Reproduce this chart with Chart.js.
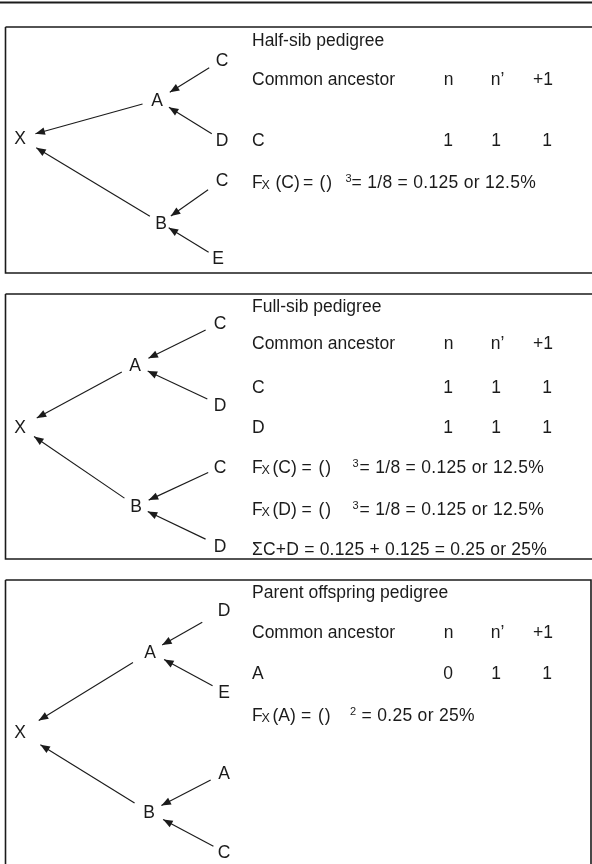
<!DOCTYPE html>
<html>
<head>
<meta charset="utf-8">
<script src="https://cdn.jsdelivr.net/npm/chart.js@4/dist/chart.umd.min.js"></script>
<style>
html,body{margin:0;padding:0;background:#fff;}
#wrap{width:592px;height:864px;}
</style>
</head>
<body>
<div id="wrap"><canvas id="c" width="592" height="864"></canvas></div>
<script>
// ---- content ----
const panelTitles = ['Half-sib pedigree', 'Full-sib pedigree', 'Parent offspring pedigree'];
const tableHeaders = ['Common ancestor', 'n', 'n\u2019', '+1'];
const ancestorNames = [['C'], ['C', 'D'], ['A']];
const nValues = [[1], [1, 1], [0]];
const nPrimeValues = [[1], [1, 1], [1]];
const plusOneValues = [[1], [1, 1], [1]];
const formulaTargets = [['(C)'], ['(C)', '(D)'], ['(A)']];
const formulaExponents = [['3'], ['3', '3'], ['2']];
const formulaResults = [['= 1/8 = 0.125 or 12.5%'], ['= 1/8 = 0.125 or 12.5%', '= 1/8 = 0.125 or 12.5%'], ['= 0.25 or 25%']];
const sumLines = [null, '\u03A3C+D = 0.125 + 0.125 = 0.25 or 25%', null];
const nodeLabels = [
  ['X', 'A', 'B', 'C', 'D', 'C', 'E'],
  ['X', 'A', 'B', 'C', 'D', 'C', 'D'],
  ['X', 'A', 'B', 'D', 'E', 'A', 'C']
];
const edges = [[1, 0], [2, 0], [3, 1], [4, 1], [5, 2], [6, 2]]; // parent -> offspring

// ---- layout (data units of the x/y scales) ----
const layout = {
  rule: 2.5,
  left: 5.5,
  panels: [
    { top: 27, bottom: 273, right: 600 },
    { top: 294, bottom: 559, right: 600 },
    { top: 580, bottom: 900, right: 591 }
  ],
  nodes: [
    [[20, 138], [157, 100], [161, 223], [222, 60], [222, 140], [222, 180], [218, 258]],
    [[20, 427], [135, 365], [136, 506], [220, 323], [220, 405], [220, 467], [220, 546]],
    [[20, 732], [150, 652], [149, 812], [224, 610], [224, 692], [224, 773], [224, 852]]
  ],
  gaps: [
    [[15, 16], [13, 19], [15, 15], [12, 14], [17, 12], [11, 9]],
    [[15, 19], [14, 17], [16, 15], [14, 14], [13, 14], [16, 13]],
    [[20, 22], [17, 24], [25, 14], [13, 16], [15, 14], [12, 16]]
  ],
  textX: 252,
  headerCols: [448.5, 497.5, 543],
  valueCols: [448, 496, 547],
  rows: [
    { title: 40, header: 79, anc: [140], form: [182], sum: null },
    { title: 305.5, header: 343, anc: [387, 427], form: [467, 509], sum: 549 },
    { title: 592, header: 632, anc: [673], form: [715], sum: null }
  ],
  formX: [
    { F: 252, sub: 261.5, paren: 275.5, eq: 303, br: 319.5, sup: 345.5, res: 351.5 },
    { F: 252, sub: 261.5, paren: 272.5, eq: 301.5, br: 318.5, sup: 352.5, res: 359.5 },
    { F: 252, sub: 261.5, paren: 272.5, eq: 301, br: 318, sup: 350, res: 361.5 }
  ]
};

const INK = '#1b1b1b';
const FONT = '"Liberation Sans", Arial, Helvetica, sans-serif';
const FS = 17.5;

// ---- datasets ----
const datasets = [];
const base = { borderColor: INK, pointRadius: 0, showLine: true, fill: false, tension: 0 };
datasets.push(Object.assign({}, base, { borderWidth: 2, data: [{ x: 0, y: layout.rule }, { x: 600, y: layout.rule }] }));
layout.panels.forEach(p => {
  const L = layout.left;
  datasets.push(Object.assign({}, base, {
    borderWidth: 1.6,
    data: [{ x: L, y: p.top }, { x: p.right, y: p.top }, { x: p.right, y: p.bottom }, { x: L, y: p.bottom }, { x: L, y: p.top }]
  }));
});
nodeLabels.forEach((labels, pi) => {
  edges.forEach(([from, to], ei) => {
    const a = layout.nodes[pi][from], b = layout.nodes[pi][to];
    const [g0, g1] = layout.gaps[pi][ei];
    const dx = b[0] - a[0], dy = b[1] - a[1], len = Math.hypot(dx, dy);
    const ux = dx / len, uy = dy / len;
    datasets.push(Object.assign({}, base, {
      arrow: true,
      borderWidth: 1.15,
      data: [{ x: a[0] + ux * g0, y: a[1] + uy * g0 }, { x: b[0] - ux * g1, y: b[1] - uy * g1 }]
    }));
  });
});

// ---- drawing plugin for arrowheads and text ----
const pedigreePlugin = {
  id: 'pedigree',
  afterDatasetsDraw(chart) {
    const { ctx } = chart;
    const xs = chart.scales.x, ys = chart.scales.y;
    const px = v => xs.getPixelForValue(v), py = v => ys.getPixelForValue(v);
    ctx.save();
    ctx.fillStyle = INK;
    chart.data.datasets.forEach((ds, i) => {
      if (!ds.arrow) return;
      const meta = chart.getDatasetMeta(i);
      const p0 = meta.data[0], p1 = meta.data[1];
      const ang = Math.atan2(p1.y - p0.y, p1.x - p0.x);
      ctx.save();
      ctx.translate(p1.x, p1.y);
      ctx.rotate(ang);
      ctx.beginPath();
      ctx.moveTo(0, 0);
      ctx.lineTo(-9.5, -3.8);
      ctx.lineTo(-9.5, 3.8);
      ctx.closePath();
      ctx.fill();
      ctx.restore();
    });
    const text = (s, x, yc, size, align, dy, spacing) => {
      ctx.font = size + 'px ' + FONT;
      ctx.textAlign = align || 'left';
      ctx.textBaseline = 'alphabetic';
      ctx.letterSpacing = (spacing || 0) + 'px';
      ctx.fillText(s, px(x), py(yc) + FS * 0.716 / 2 + (dy || 0));
      ctx.letterSpacing = '0px';
    };
    nodeLabels.forEach((labels, pi) => {
      labels.forEach((lab, ni) => {
        const [nx, ny] = layout.nodes[pi][ni];
        text(lab, nx, ny, FS, 'center');
      });
      const r = layout.rows[pi];
      const tx = layout.textX;
      text(panelTitles[pi], tx, r.title, FS);
      text(tableHeaders[0], tx, r.header, FS);
      for (let k = 1; k < 4; k++) text(tableHeaders[k], layout.headerCols[k - 1], r.header, FS, 'center');
      ancestorNames[pi].forEach((nm, ai) => {
        const y = r.anc[ai];
        text(nm, tx, y, FS);
        text(String(nValues[pi][ai]), layout.valueCols[0], y, FS, 'center');
        text(String(nPrimeValues[pi][ai]), layout.valueCols[1], y, FS, 'center');
        text(String(plusOneValues[pi][ai]), layout.valueCols[2], y, FS, 'center');
      });
      const fx = layout.formX[pi];
      formulaTargets[pi].forEach((tg, fi) => {
        const y = r.form[fi];
        text('F', fx.F, y, FS);
        text('X', fx.sub, y, 12.5, 'left', 1);
        text(tg, fx.paren, y, FS);
        text('=', fx.eq, y, FS);
        text('()', fx.br, y, FS, 'left', 0, 1);
        text(formulaExponents[pi][fi], fx.sup, y, 11, 'left', -6.5);
        text(formulaResults[pi][fi], fx.res, y, FS, 'left', 0, 0.3);
      });
      if (sumLines[pi]) text(sumLines[pi], tx, r.sum, FS, 'left', 0, 0.2);
    });
    ctx.restore();
  }
};

new Chart(document.getElementById('c'), {
  type: 'scatter',
  data: { datasets },
  options: {
    responsive: false,
    animation: false,
    events: [],
    layout: { padding: 0 },
    plugins: { legend: { display: false }, tooltip: { enabled: false } },
    scales: {
      x: { type: 'linear', min: 0, max: 592, display: false },
      y: { type: 'linear', min: 0, max: 864, reverse: true, display: false }
    }
  },
  plugins: [pedigreePlugin]
});
</script>
</body>
</html>
